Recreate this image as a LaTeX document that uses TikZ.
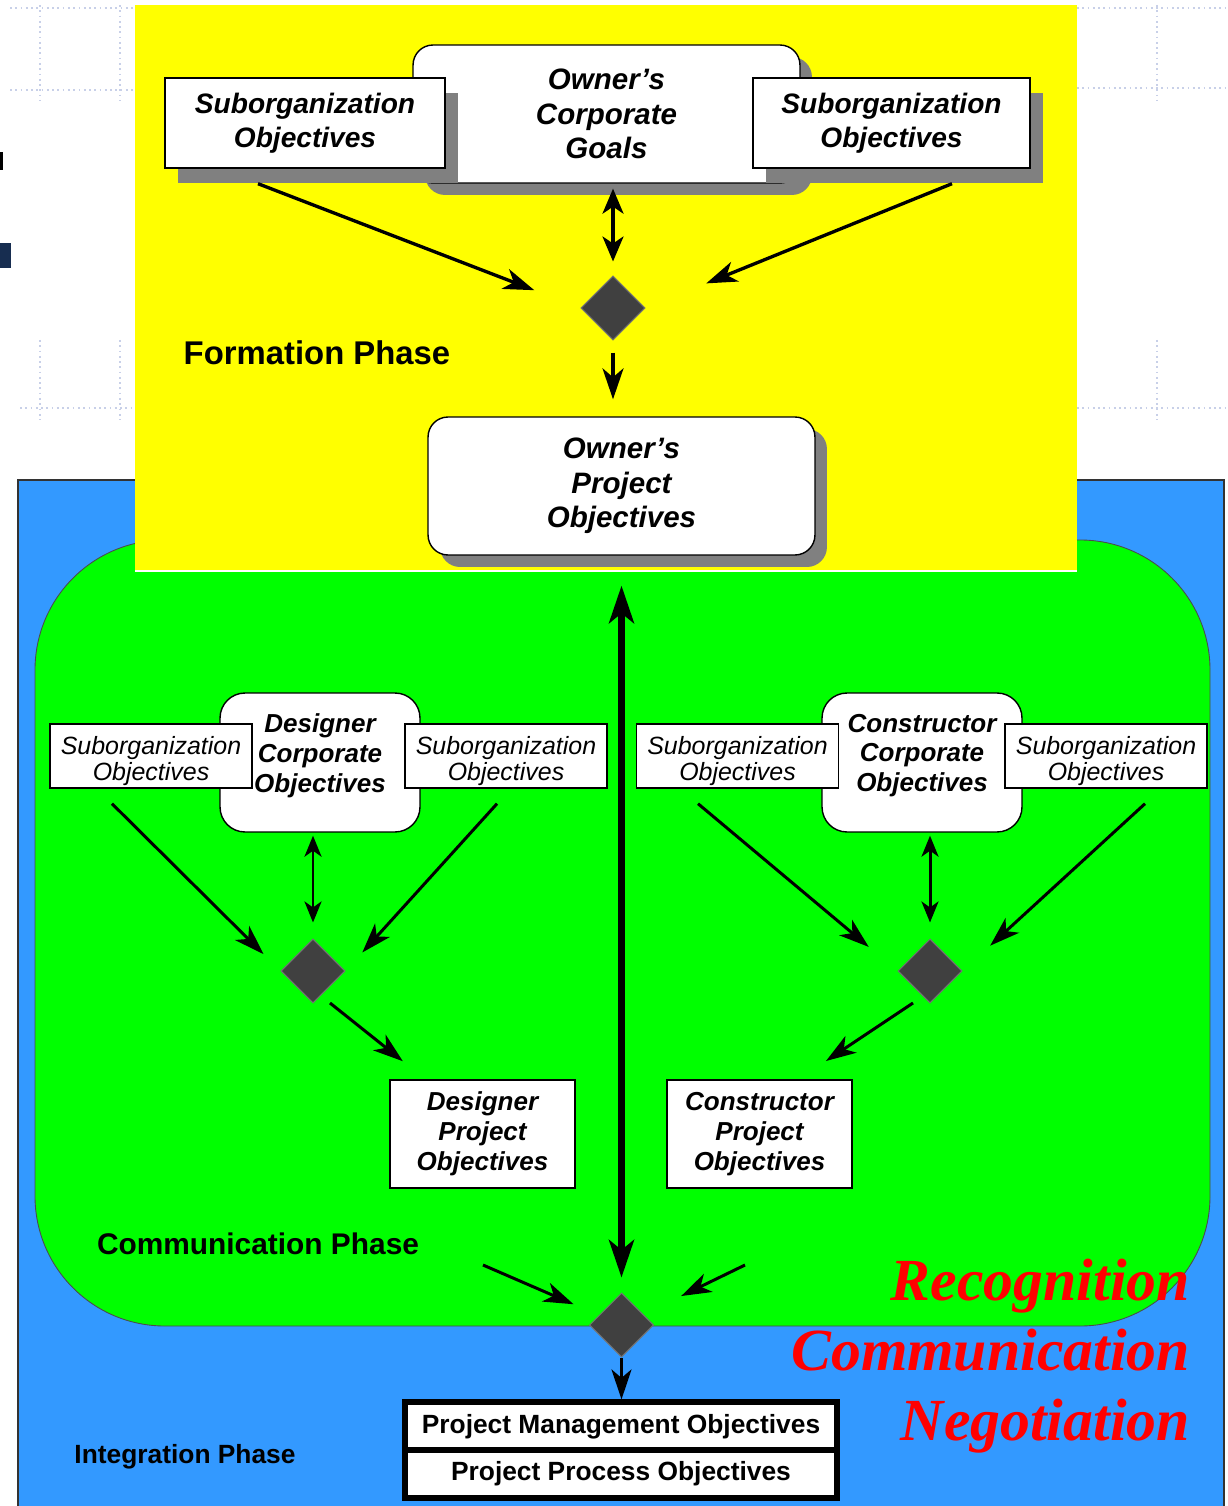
\documentclass[tikz,border=0pt]{standalone}
\usepackage{fontspec}
\setmainfont{Liberation Sans}
\newfontfamily\keyfont{Liberation Serif}
\usetikzlibrary{arrows.meta,shapes.geometric,shapes.multipart,shadows}
\definecolor{formyellow}{RGB}{255,255,0}
\definecolor{commgreen}{RGB}{0,255,0}
\definecolor{integblue}{RGB}{51,153,255}
\definecolor{shadowgray}{RGB}{128,128,128}
\definecolor{gridblue}{RGB}{200,208,232}
\definecolor{slidenavy}{RGB}{23,45,80}
\tikzset{
  gridline/.style={gridblue, line width=1pt, dotted},
  topsub/.style={draw, line width=0.8pt, fill=white, minimum width=5.6cm, minimum height=1.8cm, align=center,
    font=\fontsize{16}{19.5}\selectfont\bfseries\itshape,
    drop shadow={shadow xshift=0.26cm, shadow yshift=-0.3cm, fill=shadowgray, draw=none, opacity=1}},
  ownbox/.style={draw, line width=0.8pt, fill=white, rounded corners=0.4cm, minimum width=7.74cm, minimum height=2.76cm, align=center,
    font=\fontsize{16.8}{19.6}\selectfont\bfseries\itshape,
    drop shadow={shadow xshift=0.24cm, shadow yshift=-0.24cm, fill=shadowgray, draw=none, opacity=1}},
  smallsub/.style={draw, line width=0.8pt, fill=white, minimum width=4.04cm, minimum height=1.28cm},
  subtext/.style={align=center, inner sep=0pt, yshift=-0.1cm, font=\fontsize{14.2}{14.4}\selectfont\itshape},
  corpbox/.style={draw, line width=0.8pt, fill=white, rounded corners=0.5cm, minimum width=4cm, minimum height=2.78cm},
  corptext/.style={align=center, inner sep=0pt, yshift=0.14cm, font=\fontsize{14.8}{17}\selectfont\bfseries\itshape},
  projbox/.style={draw, line width=0.8pt, fill=white, minimum width=3.7cm, minimum height=2.16cm, align=center,
    font=\fontsize{14.8}{17}\selectfont\bfseries\itshape},
  decision/.style={diamond, fill=black!75, draw=black!55, line width=0.6pt, minimum size=1.28cm, inner sep=0pt},
  phaselabel/.style={inner sep=0pt, font=\bfseries},
  keyword/.style={inner sep=0pt, text=red, font=\keyfont\fontsize{34}{40}\selectfont\bfseries\itshape},
  toparr/.style={-{Stealth[length=0.62cm, width=0.42cm, inset=0.18cm]}, line width=1.9pt},
  dblarr/.style={{Stealth[length=0.5cm, width=0.42cm, inset=0.14cm]}-{Stealth[length=0.5cm, width=0.42cm, inset=0.14cm]}, line width=1.9pt},
  grnarr/.style={-{Stealth[length=0.6cm, width=0.4cm, inset=0.17cm]}, line width=1.7pt},
  grndbl/.style={{Stealth[length=0.42cm, width=0.34cm, inset=0.12cm]}-{Stealth[length=0.42cm, width=0.34cm, inset=0.12cm]}, line width=1.7pt},
  bigarr/.style={{Stealth[length=0.75cm, width=0.5cm, inset=0.2cm]}-{Stealth[length=0.75cm, width=0.5cm, inset=0.2cm]}, line width=3.6pt}
}

\begin{document}
\begin{tikzpicture}[x=0.02cm, y=-0.02cm]
		%%%%% START %%%%%
		\useasboundingbox (0,0) rectangle (1227,1506);
		
		% slide behind the chart
		\foreach \gx in {40,120,1157} {
			\draw[gridline] (\gx,5) -- (\gx,100);
			\draw[gridline] (\gx,340) -- (\gx,420);
		}
		\draw[gridline] (10,8) -- (135,8);
		\draw[gridline] (10,90) -- (135,90);
		\draw[gridline] (20,408) -- (135,408);
		\draw[gridline] (1077,8) -- (1227,8);
		\draw[gridline] (1077,88) -- (1227,88);
		\draw[gridline] (1077,408) -- (1227,408);
		\fill[black] (0,152) rectangle (3,170);
		\fill[slidenavy] (0,243) rectangle (11,268);
		
		% phase areas
		\draw[fill=integblue, draw=black!80, line width=0.7pt] (18,480) rectangle (1224,1507);
		\draw[fill=commgreen, draw=black!70, line width=0.5pt, rounded corners=2.6cm] (35,540) rectangle (1210,1326);
		\fill[formyellow] (135,5) rectangle (1077,570);
		\draw[white, line width=1pt] (135,571) -- (1077,571);
		
		%%%%% FORMATION %%%%%
		\node[ownbox] (corpG) at (606.5,114) {Owner’s\\Corporate\\Goals};
		\node[topsub] (subL) at (305,123) {Suborganization\\Objectives};
		\node[topsub, minimum width=5.54cm] (subR) at (891.5,123) {Suborganization\\Objectives};
		\node[decision] (diaF) at (613,308) {};
		\node[phaselabel, font=\fontsize{18.7}{22}\selectfont\bfseries] (formT) at (317,353) {Formation Phase};
		\node[ownbox] (ownP) at (621.5,486) {Owner’s\\Project\\Objectives};
		
		\draw[toparr, shorten >=0.99cm] ([xshift=-0.94cm, yshift=-0.3cm]subL.south) -- (diaF.west);
		\draw[toparr, shorten >=1.31cm] ([xshift=1.21cm, yshift=-0.3cm]subR.south) -- (diaF.east);
		\draw[dblarr, shorten <=0.1cm, shorten >=0.28cm] (corpG.south -| diaF) -- (diaF.north);
		\draw[toparr, shorten <=0.24cm, shorten >=0.34cm] (diaF.south) -- (diaF.south |- ownP.north);
		
		%%%%% COMMUNICATION %%%%%
		\node[corpbox, label={[corptext]center:Designer\\Corporate\\Objectives}] (corpD) at (320,762.5) {};
		\node[smallsub, label={[subtext]center:Suborganization\\Objectives}] (subDL) at (151,756) {};
		\node[smallsub, label={[subtext]center:Suborganization\\Objectives}] (subDR) at (506,756) {};
		\node[decision] (diaD) at (313,971) {};
		\node[projbox] (desP) at (482.5,1134) {Designer\\Project\\Objectives};
		
		\draw[grnarr, shorten >=0.48cm] ([xshift=-0.78cm, yshift=-0.3cm]subDL.south) -- (diaD.west);
		\draw[grnarr, shorten >=0.5cm] ([xshift=-0.18cm, yshift=-0.3cm]subDR.south) -- (diaD.east);
		\draw[grndbl, shorten <=0.06cm, shorten >=0.32cm] (corpD.south -| diaD) -- (diaD.north);
		\draw[grnarr, shorten >=0.58cm] ([xshift=0.34cm, yshift=-0.64cm]diaD.center) -- ([xshift=-1.14cm]desP.north);
		
		\node[corpbox, label={[corptext]center:Constructor\\Corporate\\Objectives}] (corpC) at (922,762.5) {};
		\node[smallsub, label={[subtext]center:Suborganization\\Objectives}] (subCL) at (737.5,756) {};
		\node[smallsub, label={[subtext]center:Suborganization\\Objectives}] (subCR) at (1106,756) {};
		\node[decision] (diaC) at (930,971) {};
		\node[projbox] (conP) at (759.5,1134) {Constructor\\Project\\Objectives};
		
		\draw[grnarr, shorten >=0.75cm] ([xshift=-0.79cm, yshift=-0.3cm]subCL.south) -- (diaC.west);
		\draw[grnarr, shorten >=0.75cm] ([xshift=0.78cm, yshift=-0.3cm]subCR.south) -- (diaC.east);
		\draw[grndbl, shorten <=0.06cm, shorten >=0.32cm] (corpC.south -| diaC) -- (diaC.north);
		\draw[grnarr, shorten >=0.66cm] ([xshift=-0.34cm, yshift=-0.64cm]diaC.center) -- ([xshift=0.78cm]conP.north);
		
		\node[phaselabel, font=\fontsize{17}{20}\selectfont\bfseries] (commT) at (258,1244) {Communication Phase};
		
		%%%%% INTEGRATION %%%%%
		\node[decision] (diaI) at (621.5,1325) {};
		\coordinate (inL) at (483,1265);
		\coordinate (inR) at (745,1265);
		\node[rectangle split, rectangle split parts=2, draw, line width=3.4pt, fill=white,
			minimum width=8.64cm, inner ysep=0.17cm, font=\fontsize{15}{18}\selectfont\bfseries] (pObj) at (621,1450)
			{Project Management Objectives \nodepart{two} Project Process Objectives};
		\node[phaselabel, font=\fontsize{15}{18}\selectfont\bfseries] (intT) at (185,1457) {Integration Phase};
		
		\draw[bigarr, shorten <=0.6cm, shorten >=0.3cm] (ownP.south) -- (diaI.north);
		\draw[grnarr, shorten >=0.55cm] (inL) -- (diaI);
		\draw[grnarr, shorten >=0.84cm] (inR) -- (diaI);
		\draw[grnarr] (diaI.south) -- (diaI.south |- pObj.north);
		
		\node[keyword, anchor=base east] (kwRec) at (1190,1300) {Recognition};
		\node[keyword, anchor=base east] (kwCom) at (1190,1370) {Communication};
		\node[keyword, anchor=base east] (kwNeg) at (1190,1440) {Negotiation};
		%%%%% END %%%%%
\end{tikzpicture}
\end{document}
